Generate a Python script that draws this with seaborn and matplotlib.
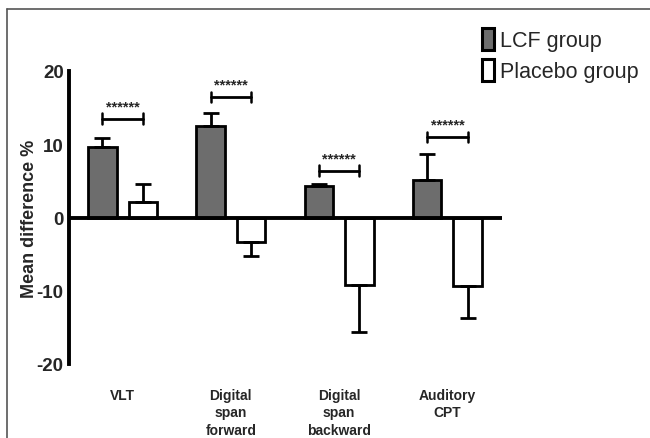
import pandas as pd
import numpy as np
import seaborn as sns
import matplotlib.pyplot as plt
from matplotlib.lines import Line2D

# values
tests = ["VLT", "Digital\nspan\nforward", "Digital\nspan\nbackward", "Auditory\nCPT"]
groups = ["LCF group", "Placebo group"]
lcf_mean = [9.6, 12.5, 4.3, 5.1]
lcf_sem = [1.2, 1.8, 0.3, 3.6]
placebo_mean = [2.1, -3.4, -9.2, -9.4]
placebo_sem = [2.5, 1.9, 6.4, 4.3]
bracket_y = [13.5, 16.5, 6.4, 11.0]
stars = "******"

df = pd.DataFrame({
    "test": tests * 2,
    "group": [groups[0]] * 4 + [groups[1]] * 4,
    "value": lcf_mean + placebo_mean,
})

sns.set_style("white")
plt.rcParams['font.family'] = ['Liberation Sans', 'DejaVu Sans']

fig = plt.figure(figsize=(6.5, 4.39), dpi=100)
ax = fig.add_axes([68.5 / 650, 1 - 365 / 439, 433 / 650, 293 / 439])

sns.barplot(data=df, x="test", y="value", hue="group", order=tests, hue_order=groups,
            palette={"LCF group": "#6d6d6d", "Placebo group": "white"},
            edgecolor="black", linewidth=2, width=0.75, gap=0.3,
            errorbar=None, ax=ax)

# one-sided error bars, pointing away from zero
for cont, means, sems in zip(ax.containers, [lcf_mean, placebo_mean], [lcf_sem, placebo_sem]):
    xs = [b.get_x() + b.get_width() / 2 for b in cont]
    lo = [0 if m >= 0 else s for m, s in zip(means, sems)]
    hi = [s if m >= 0 else 0 for m, s in zip(means, sems)]
    ax.errorbar(xs, means, yerr=[lo, hi], fmt="none", ecolor="black",
                elinewidth=2, capsize=5.5, capthick=2, zorder=1)

# significance brackets
xl = [b.get_x() + b.get_width() / 2 for b in ax.containers[0]]
xr = [b.get_x() + b.get_width() / 2 for b in ax.containers[1]]
for a, b, y in zip(xl, xr, bracket_y):
    ax.plot([a, b], [y, y], color="black", lw=2)
    ax.plot([a, a], [y - 0.7, y + 0.7], color="black", lw=1.8)
    ax.plot([b, b], [y - 0.7, y + 0.7], color="black", lw=1.8)
    ax.text((a + b) / 2, y + 0.7, stars, ha="center", va="bottom",
            fontsize=10.5, fontweight="bold")

ax.axhline(0, color="black", lw=2.8, zorder=3)
ax.set_ylim(-20, 20)
ax.set_xlim(-0.5, 3.5)
ax.set_yticks([-20, -10, 0, 10, 20])
ax.set_yticklabels(["-20", "-10", "0", "10", "20"], fontsize=13.5, fontweight="bold")
ax.set_xticks(range(4))
ax.set_xticklabels(tests, fontsize=10, fontweight="bold", multialignment="center",
                   linespacing=1.35)
ax.tick_params(axis="x", length=0, pad=17)
ax.tick_params(axis="y", length=3, width=2, direction="out", pad=0.5)
for s in ["top", "right", "bottom"]:
    ax.spines[s].set_visible(False)
ax.spines["left"].set_linewidth(2.8)
ax.spines["left"].set_color("black")
ax.set_xlabel("")
ax.set_ylabel("Mean difference %", fontsize=13, fontweight="bold", labelpad=-1)

leg = ax.legend(loc="upper left", bbox_to_anchor=(471 / 650, 1 - 18 / 439),
                bbox_transform=fig.transFigure, frameon=False, fontsize=15.5,
                handlelength=0.55, handleheight=1.2, handletextpad=0.3,
                labelspacing=0.35, borderpad=0)
for h in leg.legend_handles:
    h.set_linewidth(2.2)

# grey frame of the original panel
fig.add_artist(Line2D([7 / 650, 7 / 650], [0, 1 - 10 / 439], color="#555555", lw=1.2))
fig.add_artist(Line2D([7 / 650, 1], [1 - 10 / 439, 1 - 10 / 439], color="#555555", lw=1.2))

fig.savefig("out.png", dpi=100)
